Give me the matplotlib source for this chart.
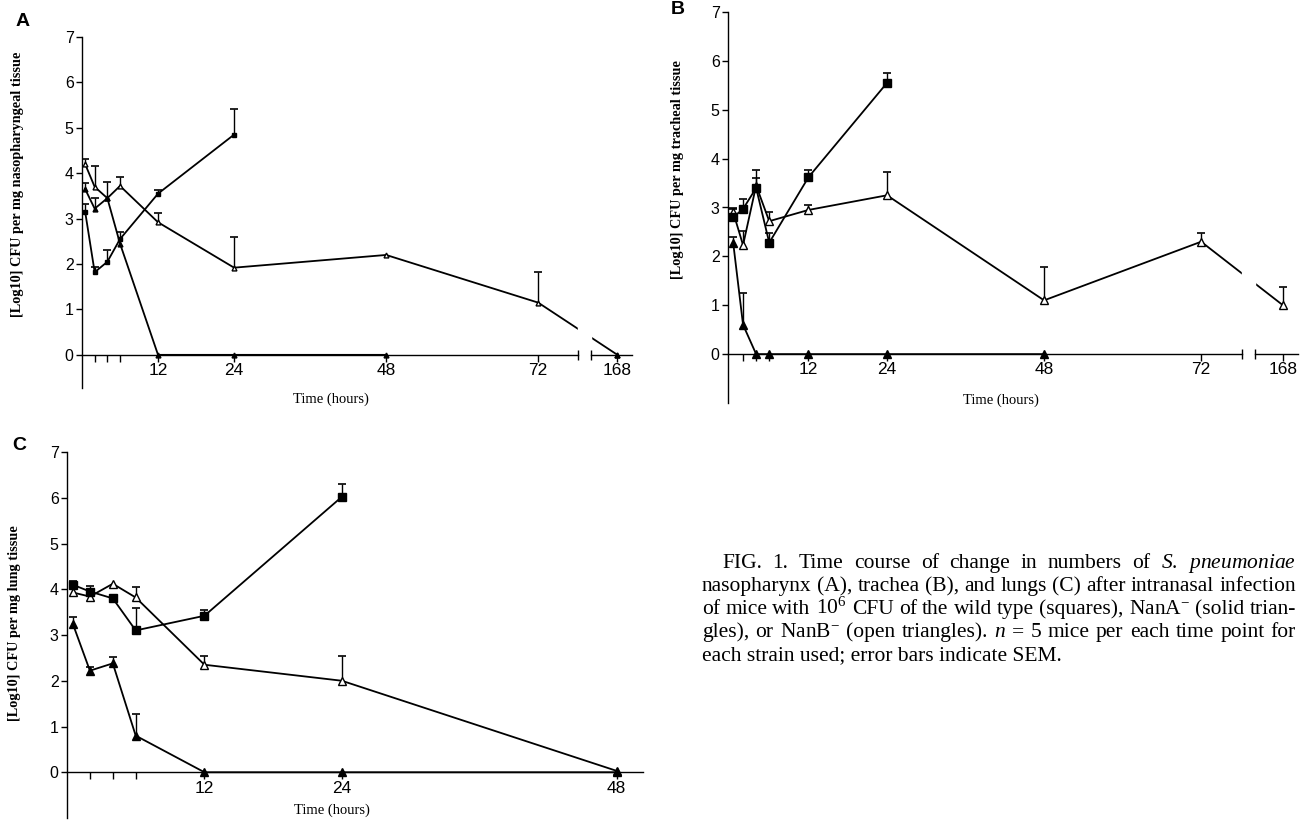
import numpy as np
import matplotlib
matplotlib.use('Agg')
import matplotlib.pyplot as plt

# ── Data ────────────────────────────────────────────────────────────────────
hours = [0.5, 2, 4, 6, 12, 24, 48, 72, 168]
hours_c = [0.5, 2, 4, 6, 12, 24, 48]
nan = np.nan

# A: nasopharynx
a_wt = [3.15, 1.82, 2.05, 2.55, 3.55, 4.85, nan, nan, nan]
a_wt_sem = [0.17, 0.12, 0.27, 0.16, 0.08, 0.56, 0, 0, 0]
a_nana = [3.65, 3.22, 3.45, 2.45, 0, 0, 0, nan, 0]
a_nana_sem = [0.14, 0.23, 0, 0, 0, 0, 0, 0, 0]
a_nanb = [4.2, 3.7, 3.45, 3.72, 2.92, 1.92, 2.2, 1.15, 0]
a_nanb_sem = [0.11, 0.46, 0.35, 0.2, 0.2, 0.67, 0, 0.68, 0]

# B: trachea
b_wt = [2.8, 2.97, 3.4, 2.28, 3.62, 5.55, nan, nan, nan]
b_wt_sem = [0.17, 0.2, 0.36, 0.19, 0.14, 0.21, 0, 0, 0]
b_nana = [2.27, 0.6, 0, 0, 0, 0, 0, nan, nan]
b_nana_sem = [0.13, 0.66, 0, 0, 0, 0, 0, 0, 0]
b_nanb = [2.9, 2.23, 3.45, 2.72, 2.95, 3.25, 1.1, 2.3, 1.0]
b_nanb_sem = [0.08, 0.29, 0.15, 0.19, 0.1, 0.47, 0.68, 0.17, 0.38]

# C: lungs
c_wt = [4.1, 3.95, 3.8, 3.1, 3.42, 6.02, nan]
c_wt_sem = [0.07, 0.13, 0, 0.5, 0.13, 0.27, 0]
c_nana = [3.25, 2.22, 2.38, 0.8, 0, 0, 0]
c_nana_sem = [0.14, 0.08, 0.15, 0.47, 0, 0, 0]
c_nanb = [3.93, 3.84, 4.12, 3.82, 2.35, 2.0, 0.03]
c_nanb_sem = [0, 0, 0, 0.24, 0.2, 0.54, 0]

caption = [
    r"FIG. 1. Time course of change in numbers of $\mathit{S.}$ $\mathit{pneumoniae}$",
    r"nasopharynx (A), trachea (B), and lungs (C) after intranasal infection",
    r"of mice with 10$^6$ CFU of the wild type (squares), NanA$^{-}$ (solid trian-",
    r"gles), or NanB$^{-}$ (open triangles). $n$ = 5 mice per each time point for",
    r"each strain used; error bars indicate SEM.",
]

# ── Style ───────────────────────────────────────────────────────────────────
plt.rcParams['mathtext.fontset'] = 'custom'
plt.rcParams['mathtext.rm'] = 'Liberation Serif'
plt.rcParams['mathtext.it'] = 'Liberation Serif:italic'
TICKFONT = ['Liberation Sans Narrow', 'Liberation Sans', 'DejaVu Sans']
SERIF = ['Liberation Serif', 'DejaVu Serif']

W, H = 1300, 822
fig = plt.figure(figsize=(13, 8.22), dpi=100)


def px_axes(left, top, right, bottom):
    return fig.add_axes([left / W, 1 - bottom / H, (right - left) / W, (bottom - top) / H])


# broken x scale: 78.2 .. 163.8 h squeezed into a small gap
BRK_LO, BRK_HI = 78.2, 163.8


def fwd(t):
    return np.interp(t, [-100, BRK_LO, BRK_HI, 400], [-100, BRK_LO, 80.3, 316.5])


def inv(x):
    return np.interp(x, [-100, BRK_LO, 80.3, 316.5], [-100, BRK_LO, BRK_HI, 400])


def draw_series(ax, x, y, sem, marker, face, ms):
    x = np.array(x, float)
    y = np.array(y, float)
    sem = np.array(sem, float)
    ax.plot(x, y, color='black', lw=1.3, zorder=2)
    ax.plot(x, y, ls='none', marker=marker, mfc=face, mec='black', mew=1.0, ms=ms,
            zorder=4, clip_on=False)
    m = sem > 0
    ax.vlines(x[m], y[m], y[m] + sem[m], color='black', lw=1.0, zorder=3)
    ax.plot(x[m], y[m] + sem[m], ls='none', marker='_', ms=6, mew=1.2, color='black', zorder=3)


def style_axes(ax, xlim, ylim, xticks, xlabels, broken):
    ax.set_ylim(*ylim)
    if broken:
        ax.set_xscale('function', functions=(fwd, inv))
    ax.set_xlim(*xlim)
    for s in ['top', 'right']:
        ax.spines[s].set_visible(False)
    ax.spines['bottom'].set_position(('data', 0))
    ax.spines['left'].set_linewidth(1.0)
    ax.spines['bottom'].set_linewidth(1.0)
    ax.set_yticks(range(0, 8))
    ax.set_xticks(xticks)
    ax.set_xticklabels(xlabels)
    ax.minorticks_off()
    ax.tick_params(axis='y', direction='out', length=4, width=1, pad=2, labelsize=11.5)
    ax.tick_params(axis='x', direction='out', length=5, width=1, pad=1, labelsize=12.5)
    for lab in ax.get_xticklabels() + ax.get_yticklabels():
        lab.set_family(TICKFONT)
    ax.patch.set_alpha(0)
    if broken:
        ax.spines['bottom'].set_bounds(xlim[0], BRK_LO)
        # white gap through the data line at the axis break
        ax.axvspan(BRK_LO, BRK_HI, color='white', zorder=2.5)
        ax.plot([BRK_HI, xlim[1]], [0, 0], color='black', lw=1.0, clip_on=False, zorder=2.6)
        ax.plot([BRK_LO, BRK_HI], [0, 0], ls='none', marker='|', ms=7, mew=1.0,
                color='black', clip_on=False, zorder=2.6)


ticks_ab = [2, 4, 6, 12, 24, 48, 72, 168]
labels_ab = ['', '', '', '12', '24', '48', '72', '168']

# ── Panel A ─────────────────────────────────────────────────────────────────
axA = px_axes(82, 37, 632, 388)
draw_series(axA, hours, a_nanb, a_nanb_sem, '^', 'white', 3.5)
draw_series(axA, hours, a_nana, a_nana_sem, '^', 'black', 3.5)
draw_series(axA, hours, a_wt, a_wt_sem, 's', 'black', 3.5)
style_axes(axA, (0, 170.3), (-0.73, 7), ticks_ab, labels_ab, True)

# ── Panel B ─────────────────────────────────────────────────────────────────
axB = px_axes(728, 12, 1298, 403)
draw_series(axB, hours, b_nanb, b_nanb_sem, '^', 'white', 6)
draw_series(axB, hours, b_nana, b_nana_sem, '^', 'black', 6)
draw_series(axB, hours, b_wt, b_wt_sem, 's', 'black', 6)
style_axes(axB, (-0.3, 170.3), (-1.0, 7), ticks_ab, labels_ab, True)

# ── Panel C ─────────────────────────────────────────────────────────────────
axC = px_axes(67, 452, 643, 818)
draw_series(axC, hours_c, c_nanb, c_nanb_sem, '^', 'white', 6)
draw_series(axC, hours_c, c_nana, c_nana_sem, '^', 'black', 6)
draw_series(axC, hours_c, c_wt, c_wt_sem, 's', 'black', 6)
style_axes(axC, (0, 50.3), (-1.0, 7), [2, 4, 6, 12, 24, 48],
           ['', '', '', '12', '24', '48'], False)
axC.spines['bottom'].set_bounds(0, 50.3)

# ── Labels ──────────────────────────────────────────────────────────────────
ylabels = [
    ('[Log10] CFU per mg nasopharyngeal tissue', 18, 184),
    ('[Log10] CFU per mg tracheal tissue', 678, 170),
    ('[Log10] CFU per mg lung tissue', 15, 623),
]
for txt, x, y in ylabels:
    fig.text(x / W, 1 - y / H, txt, rotation=90, ha='center', va='center',
             fontsize=10.3, fontweight='bold', family=SERIF)

for x, y in [(331, 399), (1001, 400), (332, 810)]:
    fig.text(x / W, 1 - y / H, 'Time (hours)', ha='center', va='center',
             fontsize=10.5, family=SERIF)

for letter, x, y in [('A', 23, 22), ('B', 678, 10), ('C', 19, 445)]:
    fig.text(x / W, 1 - y / H, letter, ha='center', va='center',
             fontsize=14, fontweight='bold', family=['Liberation Sans', 'DejaVu Sans'])

# ── Caption (justified lines, last line left-aligned) ───────────────────────
renderer = fig.canvas.get_renderer()
COL_RIGHT = 1296
for i, line in enumerate(caption):
    x0 = 722 if i == 0 else 702
    y = 1 - (568 + 23 * i) / H
    if i == len(caption) - 1:
        fig.text(x0 / W, y, line, ha='left', va='baseline', fontsize=15.5, family=SERIF)
        continue
    words = line.split(' ')
    texts = [fig.text(0, y, w, ha='left', va='baseline', fontsize=15.5, family=SERIF)
             for w in words]
    widths = [t.get_window_extent(renderer).width for t in texts]
    space = (COL_RIGHT - x0 - sum(widths)) / (len(words) - 1)
    x = x0
    for t, w in zip(texts, widths):
        t.set_x(x / W)
        x += w + space

fig.savefig('out.png', dpi=100, facecolor='white')
